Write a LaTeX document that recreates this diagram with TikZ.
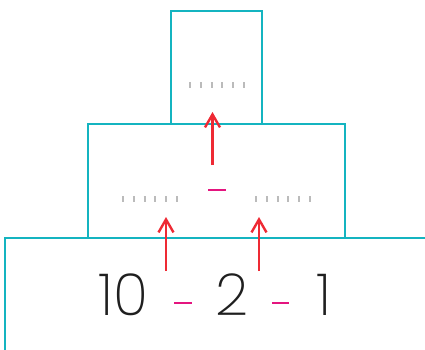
\documentclass[tikz,border=0pt]{standalone}
\usepackage{fontspec}
\setmainfont{Poppins}[UprightFont={* ExtraLight}]
\usetikzlibrary{arrows.meta}
\definecolor{teal}{HTML}{14B4C0}
\definecolor{arrred}{HTML}{EE2A34}
\definecolor{mag}{HTML}{E4157F}
\definecolor{tick}{HTML}{BBBBBB}
\tikzset{
  boxline/.style={draw=teal,line width=2.8pt},
  uparrow/.style={draw=arrred,line width=2.4pt,-{Straight Barb[length=13pt,width=15pt,line width=2.4pt]}},
  ticks/.style={draw=tick,line width=6pt,dash pattern=on 2pt off 8.8pt},
  minus/.style={draw=mag,line width=2.6pt},
  num/.style={font=\fontsize{58}{60}\selectfont,text=black!88,inner sep=0pt,anchor=base}
}
\begin{document}
\begin{tikzpicture}[x=1pt,y=-1pt]
\useasboundingbox (0,0) rectangle (425,349);
\clip (0,0) rectangle (425,349);
% boxes
\node[boxline,minimum width=91pt,minimum height=113pt,inner sep=0pt] (top) at (216.5,67.5) {};
\node[boxline,minimum width=257pt,minimum height=114pt,inner sep=0pt] (mid) at (216.5,181) {};
\draw[boxline] (440,238) -- (5,238) -- (5,360);
% numbers
\node[num] (n10) at (123,315) {10};
\node[num] (n2) at (232,315) {2};
\node[num] (n1) at (324,315) {1};
% minus signs
\coordinate (m1a) at (174,303); \coordinate (m1b) at (192,303);
\coordinate (m2a) at (272,303); \coordinate (m2b) at (289,303);
\coordinate (m3a) at (208,190); \coordinate (m3b) at (226,190);
\draw[minus] (m1a) -- (m1b);
\draw[minus] (m2a) -- (m2b);
\draw[minus] (m3a) -- (m3b);
% dotted blanks
\coordinate (d1a) at (189,85); \coordinate (d1b) at (245,85);
\coordinate (d2a) at (122,199); \coordinate (d2b) at (178,199);
\coordinate (d3a) at (255,199); \coordinate (d3b) at (311,199);
\draw[ticks] (d1a) -- (d1b);
\draw[ticks] (d2a) -- (d2b);
\draw[ticks] (d3a) -- (d3b);
% arrows
\coordinate (a1s) at (212.5,165); \coordinate (a1e) at (212.5,112);
\coordinate (a2s) at (166,271); \coordinate (a2e) at (166,217);
\coordinate (a3s) at (259,271); \coordinate (a3e) at (259,217);
\draw[uparrow] (a1s) -- (a1e);
\draw[uparrow] (a2s) -- (a2e);
\draw[uparrow] (a3s) -- (a3e);
\end{tikzpicture}
\end{document}
